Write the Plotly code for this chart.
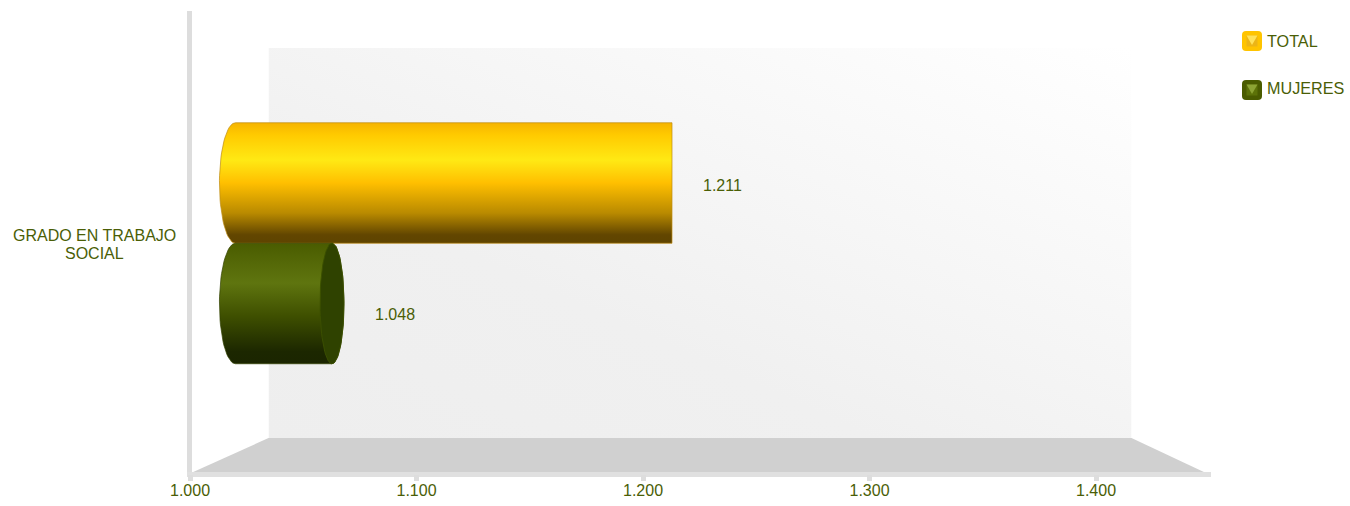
import base64
import numpy as np
import plotly.graph_objects as go

# ---- data ----
category_lines = ["GRADO EN TRABAJO", "SOCIAL"]
series_names = ["TOTAL", "MUJERES"]
series_values = [1211, 1048]
series_labels = ["1.211", "1.048"]
tick_values = [1000, 1100, 1200, 1300, 1400]
tick_labels = ["1.000", "1.100", "1.200", "1.300", "1.400"]

# ---- layout constants ----
W, H = 1350, 506
L, R, T, B = 190, 1210, 12, 474
TEXT = "#4a5e06"
FONT = "Liberation Sans, Arial, sans-serif"
def px(x): return (x - L) / (R - L)
def py(y): return (B - y) / (B - T)

# tick axis: 226.5 px per 100 units, 1000 at the left edge
main_scale = 226.5 / 100
main_range = [1000, 1000 + (R - L) / main_scale]
# perspective-shifted bar axis
bar_scale = 2.0123
bar_left = 1048 - (344 - L) / bar_scale
bar_range = [bar_left, bar_left + (R - L) / bar_scale]
bar_base = 986.1
# band axis: each bar 120.5 px thick, MUJERES centred at y=303.5
band = 120.5
y_range = [(303.5 - B) / band, (303.5 - T) / band]
positions = [1, 0]

end_caps = [0, 12]       # px half-width of the far end ellipse
start_cap = 16           # px half-width of the near end ellipse

gradients = [
    [[0, "#f6b400"], [0.1, "#ffca00"], [0.31, "#ffe914"], [0.5, "#ffbf00"],
     [0.75, "#b98a00"], [0.93, "#624600"], [1, "#5f4400"]],
    [[0, "#4a5c00"], [0.33, "#5f750f"], [0.6, "#3f5000"], [0.9, "#1c2700"], [1, "#1b2500"]],
]
edge_colors = ["rgba(190,140,20,0.7)", "rgba(50,65,0,0.7)"]
cap_color = "#2f4200"

def cylinder(value, pos, rx_end_px):
    rx0 = start_cap / bar_scale
    rx1 = rx_end_px / bar_scale
    t = np.linspace(np.pi / 2, 3 * np.pi / 2, 40)
    left_x = bar_base + rx0 + rx0 * np.cos(t)
    left_y = pos + 0.5 * np.sin(t)
    right_x = value - rx1 + rx1 * np.cos(t - np.pi)
    right_y = pos + 0.5 * np.sin(t - np.pi)
    return (np.r_[left_x, right_x, left_x[0]], np.r_[left_y, right_y, left_y[0]])

fig = go.Figure()

# invisible trace keeping the tick axis alive
fig.add_trace(go.Scatter(x=series_values, y=positions, mode="markers",
                         marker=dict(opacity=0), xaxis="x", yaxis="y",
                         showlegend=False, hoverinfo="skip"))

for name, value, pos, rx, grad, edge in zip(series_names, series_values, positions,
                                            end_caps, gradients, edge_colors):
    xs, ys = cylinder(value, pos, rx)
    fig.add_trace(go.Scatter(
        x=xs, y=ys, name=name, mode="lines", xaxis="x2", yaxis="y", fill="toself",
        line=dict(color=edge, width=1),
        fillgradient=dict(type="vertical", colorscale=grad, start=pos + 0.5, stop=pos - 0.5),
        showlegend=False, hoverinfo="skip"))
    if rx:
        t = np.linspace(0, 2 * np.pi, 80)
        cx = value - rx / bar_scale
        fig.add_trace(go.Scatter(
            x=cx + rx / bar_scale * np.cos(t), y=pos + 0.5 * np.sin(t), mode="lines",
            xaxis="x2", yaxis="y", fill="toself", fillcolor=cap_color,
            line=dict(color="rgba(60,80,0,0.9)", width=1),
            showlegend=False, hoverinfo="skip"))

annotations = []
for value, pos, label, dy in zip(series_values, positions, series_labels, [-2, -11]):
    annotations.append(dict(x=value, y=pos, xref="x2", yref="y", text=label, showarrow=False,
                            xanchor="left", yanchor="middle", xshift=29, yshift=dy,
                            font=dict(size=16, color=TEXT, family=FONT)))
for line, yc in zip(category_lines, [235, 253]):
    annotations.append(dict(x=px(94.5), y=py(yc), xref="paper", yref="paper", text=line,
                            showarrow=False, xanchor="center", yanchor="middle",
                            font=dict(size=16, color=TEXT, family=FONT)))

def poly(points):
    return "M " + " L ".join(f"{px(a)},{py(b)}" for a, b in points) + " Z"

def rrect(x0, y0, x1, y1, r):
    fx0, fx1, fy0, fy1 = px(x0), px(x1), py(y0), py(y1)
    rx, ry = r / (R - L), r / (B - T)
    return (f"M {fx0+rx},{fy0} L {fx1-rx},{fy0} Q {fx1},{fy0} {fx1},{fy0-ry} "
            f"L {fx1},{fy1+ry} Q {fx1},{fy1} {fx1-rx},{fy1} L {fx0+rx},{fy1} "
            f"Q {fx0},{fy1} {fx0},{fy1+ry} L {fx0},{fy0-ry} Q {fx0},{fy0} {fx0+rx},{fy0} Z")

def path_shape(path, color, layer="below"):
    return dict(type="path", path=path, xref="paper", yref="paper", fillcolor=color,
                line=dict(width=0), layer=layer)

shapes = [
    path_shape(poly([(191, 473), (268.5, 438), (1131.5, 438), (1206, 473)]), "#d0d0d0"),
    dict(type="rect", xref="paper", yref="paper", x0=px(187), x1=px(192), y0=py(474), y1=py(11),
         fillcolor="#dddddd", line=dict(width=0), layer="below"),
    dict(type="rect", xref="paper", yref="paper", x0=px(187), x1=px(1211), y0=py(477), y1=py(472),
         fillcolor="#e0e0e0", line=dict(width=0), layer="below"),
]

# legend swatches
swatches = [
    (31, 41, "#ffc400", "#ffe25a", "#ecb516"),
    (80, 88, "#4a5c00", "#8ca434", "#5c7208"),
]
for (top, text_y, outer, light, side), name in zip(swatches, series_names):
    x0, x1 = 1242, 1262
    shapes.append(path_shape(rrect(x0, top, x1, top + 20, 4), outer, "above"))
    a, b, c, d = x0 + 4.5, x1 - 4.5, top + 4.5, top + 15.5
    shapes.append(path_shape(poly([(a, c), (b, c), (b, d), (a, d)]), side, "above"))
    shapes.append(path_shape(poly([(a, c), (b, c), ((a + b) / 2, d - 1.5)]), light, "above"))
    annotations.append(dict(x=px(1267), y=py(text_y), xref="paper", yref="paper", text=name,
                            showarrow=False, xanchor="left", yanchor="middle", xshift=-2,
                            font=dict(size=16.2, color=TEXT, family=FONT)))

# back wall with its diagonal gradient
wall_svg = ('<svg xmlns="http://www.w3.org/2000/svg" width="863" height="390" viewBox="0 0 863 390" '
            'preserveAspectRatio="none"><defs><linearGradient id="g" x1="0" y1="1" x2="1" y2="0">'
            '<stop offset="0" stop-color="#eeeeee"/><stop offset="0.35" stop-color="#f0f0f0"/>'
            '<stop offset="1" stop-color="#ffffff"/></linearGradient></defs>'
            '<rect width="863" height="390" fill="url(#g)"/></svg>')
wall_src = "data:image/svg+xml;base64," + base64.b64encode(wall_svg.encode()).decode()

fig.update_layout(
    width=W, height=H,
    margin=dict(l=L, r=W - R, t=T, b=H - B, autoexpand=False),
    paper_bgcolor="white", plot_bgcolor="rgba(0,0,0,0)",
    showlegend=False,
    font=dict(family=FONT, size=16, color=TEXT),
    xaxis=dict(range=main_range, tickvals=tick_values, ticktext=tick_labels, ticks="outside",
               ticklen=6, tickwidth=5, tickcolor="#dddddd", showgrid=False, zeroline=False,
               showline=False, ticklabelstandoff=-4,
               tickfont=dict(size=16, color=TEXT, family=FONT), automargin=False),
    xaxis2=dict(range=bar_range, overlaying="x", visible=False, anchor="y"),
    yaxis=dict(range=y_range, visible=False, automargin=False),
    shapes=shapes,
    annotations=annotations,
    images=[dict(source=wall_src, xref="paper", yref="paper", x=px(268.5), y=py(48),
                 sizex=px(1131.5) - px(268.5), sizey=py(48) - py(438), sizing="stretch",
                 xanchor="left", yanchor="top", layer="below")],
)

fig.write_html("out.html", config={"displayModeBar": False},
               post_script="document.body.style.margin='0';document.documentElement.style.overflow='hidden';")
